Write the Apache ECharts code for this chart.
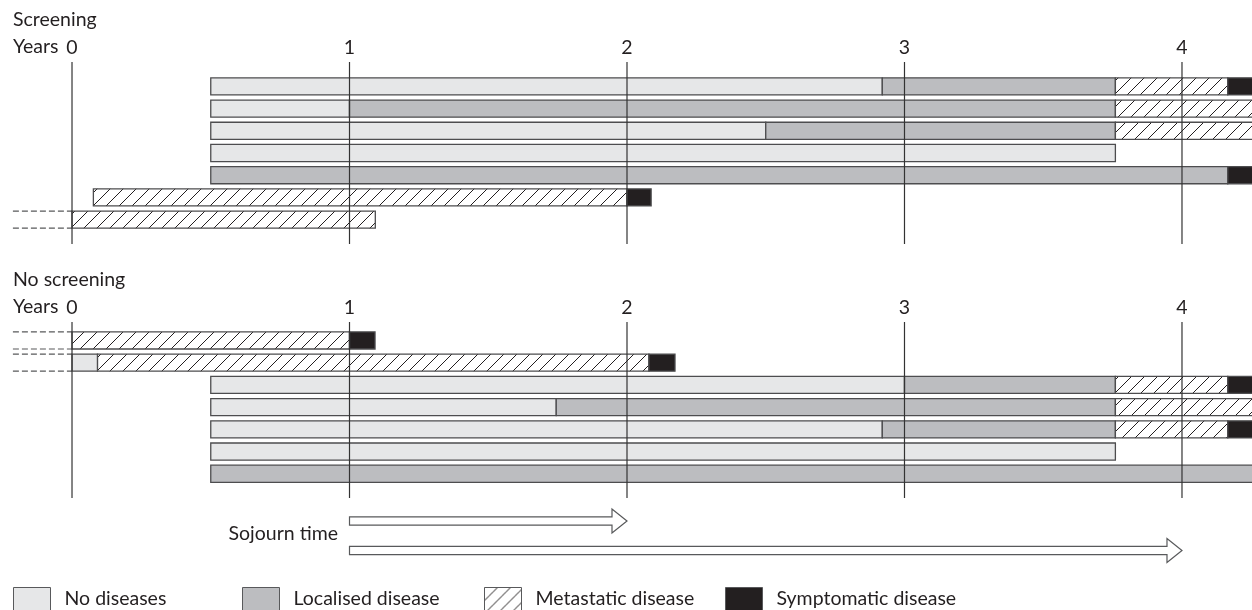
<!DOCTYPE html>
<html>
<head>
<meta charset="utf-8">
<script src="https://cdn.jsdelivr.net/npm/echarts@6/dist/echarts.min.js"></script>
<style>
html,body{margin:0;padding:0;background:#fff;}
#chart{width:1252px;height:610px;}
</style>
</head>
<body>
<div id="chart"></div>
<script>
// ---- Data (years) : [row, start, end] ----
const yearTicks = [0, 1, 2, 3, 4];
const stateNames = ['No diseases', 'Localised disease', 'Metastatic disease', 'Symptomatic disease'];

const screenNone  = [[0, 0.5, 2.92], [1, 0.5, 1.0], [2, 0.5, 2.5], [3, 0.5, 3.76]];
const screenLocal = [[0, 2.92, 3.76], [1, 1.0, 3.76], [2, 2.5, 3.76], [4, 0.5, 4.165]];
const screenMeta  = [[0, 3.76, 4.165], [1, 3.76, 4.3], [2, 3.76, 4.3], [5, 0.077, 2.0], [6, 0, 1.093]];
const screenSymp  = [[0, 4.165, 4.3], [4, 4.165, 4.3], [5, 2.0, 2.087]];
const screenLeadIns = [6];

const noScreenNone  = [[1, 0, 0.092], [2, 0.5, 3.0], [3, 0.5, 1.745], [4, 0.5, 2.92], [5, 0.5, 3.76]];
const noScreenLocal = [[2, 3.0, 3.76], [3, 1.745, 3.76], [4, 2.92, 3.76], [6, 0.5, 4.3]];
const noScreenMeta  = [[0, 0, 1.0], [1, 0.092, 2.079], [2, 3.76, 4.165], [3, 3.76, 4.3], [4, 3.76, 4.165]];
const noScreenSymp  = [[0, 1.0, 1.092], [1, 2.079, 2.173], [2, 4.165, 4.3], [4, 4.165, 4.3]];
const noScreenLeadIns = [0, 1];

const leadInStart = -0.213;
const sojournArrows = [[1, 2], [1, 4]];

// ---- Styles ----
const FONT = 'Lato, "Noto Sans", sans-serif';
const FS = 19.5;
const TXT = '#231f20';
const BORDER = '#4d4d4f';

function hatch() {
  const s = 13;
  const c = document.createElement('canvas');
  c.width = s; c.height = s;
  const g = c.getContext('2d');
  g.fillStyle = '#ffffff';
  g.fillRect(0, 0, s, s);
  g.strokeStyle = '#231f20';
  g.lineWidth = 1;
  g.beginPath();
  g.moveTo(0, s); g.lineTo(s, 0);
  g.moveTo(-2, 2); g.lineTo(2, -2);
  g.moveTo(s - 2, s + 2); g.lineTo(s + 2, s - 2);
  g.stroke();
  return { image: c, repeat: 'repeat' };
}
const fills = ['#e6e7e8', '#bcbdc0', hatch(), '#231f20'];

function segRender(fill) {
  return function (params, api) {
    const r = api.value(0), s = api.value(1), e = api.value(2);
    const p0 = api.coord([s, r]);
    const p1 = api.coord([e, r]);
    const h = api.size([0, 1])[1] * 0.77;
    return {
      type: 'rect',
      shape: { x: p0[0], y: p0[1] - h / 2, width: p1[0] - p0[0], height: h },
      style: { fill: fill, stroke: BORDER, lineWidth: 1.3 }
    };
  };
}

function segSeries(name, idx, data, gi) {
  return {
    type: 'custom', name: name, xAxisIndex: gi, yAxisIndex: gi,
    renderItem: segRender(fills[idx]), data: data,
    encode: { x: [1, 2], y: 0 }, z: 2, silent: true
  };
}

function yearLineSeries(gi) {
  return {
    type: 'custom', xAxisIndex: gi, yAxisIndex: gi, data: yearTicks, z: 5, silent: true,
    encode: { x: 0 },
    renderItem: function (params, api) {
      const v = api.value(0);
      const cs = params.coordSys;
      const x = api.coord([v, 0])[0];
      return {
        type: 'group',
        children: [
          { type: 'line', shape: { x1: x, y1: cs.y, x2: x, y2: cs.y + cs.height },
            style: { stroke: '#333333', lineWidth: 1.2 } },
          { type: 'text', style: { text: String(v), x: x, y: cs.y - 14, align: 'center',
            verticalAlign: 'middle', font: FS + 'px ' + FONT, fill: TXT } }
        ]
      };
    }
  };
}

function leadInSeries(gi, rows) {
  return {
    type: 'custom', xAxisIndex: gi, yAxisIndex: gi, data: rows, z: 3, silent: true,
    encode: { y: 0 },
    renderItem: function (params, api) {
      const r = api.value(0);
      const h = api.size([0, 1])[1] * 0.77;
      const a = api.coord([leadInStart, r]);
      const b = api.coord([0, r]);
      const st = { stroke: '#58595b', lineWidth: 1.2, lineDash: [6, 3] };
      return {
        type: 'group',
        children: [
          { type: 'line', shape: { x1: a[0], y1: a[1] - h / 2, x2: b[0], y2: b[1] - h / 2 }, style: st },
          { type: 'line', shape: { x1: a[0], y1: a[1] + h / 2, x2: b[0], y2: b[1] + h / 2 }, style: st }
        ]
      };
    }
  };
}

const arrowSeries = {
  type: 'custom', xAxisIndex: 1, yAxisIndex: 1, data: sojournArrows, z: 3, silent: true,
  encode: { x: [0, 1] },
  renderItem: function (params, api) {
    const cs = params.coordSys;
    const x1 = api.coord([api.value(0), 0])[0];
    const x2 = api.coord([api.value(1), 0])[0];
    const y = cs.y + cs.height + 23 + params.dataIndex * 29.5;
    const sh = 4.2, hh = 12, hl = 15;
    const xb = x2 - hl;
    return {
      type: 'polygon',
      shape: { points: [[x1, y - sh], [xb, y - sh], [xb, y - hh], [x2, y], [xb, y + hh], [xb, y + sh], [x1, y + sh]] },
      style: { fill: '#ffffff', stroke: '#58595b', lineWidth: 1.2 }
    };
  }
};

const legendLeft = [13, 242, 484, 725];
const legends = stateNames.map(function (n, i) {
  return {
    left: legendLeft[i], top: 587, padding: 0, itemWidth: 37, itemHeight: 23,
    selectedMode: false, icon: 'rect',
    textStyle: { fontSize: FS, fontFamily: FONT, color: TXT, padding: [0, 0, 0, 9] },
    data: [{ name: n, itemStyle: { color: fills[i], borderColor: '#58595b', borderWidth: 1 } }]
  };
});

const xAxisBase = { type: 'value', min: -0.2595, max: 4.2523, show: false };

const option = {
  animation: false,
  backgroundColor: '#ffffff',
  grid: [
    { left: 0, right: 0, top: 62, height: 182 },
    { left: 0, right: 0, top: 322, height: 176 }
  ],
  xAxis: [Object.assign({ gridIndex: 0 }, xAxisBase), Object.assign({ gridIndex: 1 }, xAxisBase)],
  yAxis: [
    { gridIndex: 0, type: 'value', inverse: true, min: -1.1, max: 7.1, show: false },
    { gridIndex: 1, type: 'value', inverse: true, min: -0.83, max: 7.09, show: false }
  ],
  legend: legends,
  graphic: [
    { type: 'text', left: 13, top: 10, style: { text: 'Screening', font: FS + 'px ' + FONT, fill: TXT } },
    { type: 'text', left: 13, top: 37, style: { text: 'Years', font: FS + 'px ' + FONT, fill: TXT } },
    { type: 'text', left: 13, top: 270, style: { text: 'No screening', font: FS + 'px ' + FONT, fill: TXT } },
    { type: 'text', left: 13, top: 297, style: { text: 'Years', font: FS + 'px ' + FONT, fill: TXT } },
    { type: 'text', right: 1252 - 338, top: 524, style: { text: 'Sojourn time', font: FS + 'px ' + FONT, fill: TXT } }
  ],
  series: [
    segSeries(stateNames[0], 0, screenNone, 0),
    segSeries(stateNames[1], 1, screenLocal, 0),
    segSeries(stateNames[2], 2, screenMeta, 0),
    segSeries(stateNames[3], 3, screenSymp, 0),
    segSeries(stateNames[0], 0, noScreenNone, 1),
    segSeries(stateNames[1], 1, noScreenLocal, 1),
    segSeries(stateNames[2], 2, noScreenMeta, 1),
    segSeries(stateNames[3], 3, noScreenSymp, 1),
    leadInSeries(0, screenLeadIns),
    leadInSeries(1, noScreenLeadIns),
    yearLineSeries(0),
    yearLineSeries(1),
    arrowSeries
  ]
};

const chart = echarts.init(document.getElementById('chart'), null, { renderer: 'canvas' });
chart.setOption(option);
</script>
</body>
</html>
